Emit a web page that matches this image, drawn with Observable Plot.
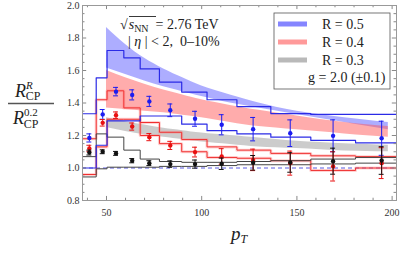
<!DOCTYPE html>
<html><head><meta charset="utf-8">
<script src="https://cdn.jsdelivr.net/npm/d3@7"></script>
<script src="https://cdn.jsdelivr.net/npm/@observablehq/plot@0.6"></script>
<style>body{margin:0;background:#fff}</style>
</head><body><div id="chart"></div>
<script>
// ---- data points ----
const pt = [41, 48, 55, 63.5, 72.5, 83.5, 96.5, 110.5, 127, 146.5, 169, 194.5];
const blueVal = [1.185, 1.33, 1.47, 1.45, 1.41, 1.355, 1.303, 1.266, 1.239, 1.214, 1.198, 1.183];
const blueErr = [0.025, 0.03, 0.026, 0.031, 0.031, 0.039, 0.046, 0.062, 0.072, 0.082, 0.098, 0.105];
const redVal = [1.12, 1.278, 1.325, 1.255, 1.19, 1.139, 1.098, 1.071, 1.05, 1.03, 1.01, 1.03];
const redErr = [0.02, 0.02, 0.02, 0.022, 0.022, 0.025, 0.03, 0.048, 0.066, 0.074, 0.09, 0.095];
const blackVal = [1.095, 1.10, 1.09, 1.045, 1.03, 1.024, 1.024, 1.026, 1.032, 1.034, 1.042, 1.046];
const blackErr = [0.015, 0.012, 0.012, 0.013, 0.015, 0.02, 0.025, 0.035, 0.045, 0.06, 0.08, 0.085];

// ---- theory bands ----
const bandPt = [50, 60, 70, 80, 90, 100, 115, 130, 150, 175, 198];
const blueHi = [1.865, 1.76, 1.675, 1.61, 1.555, 1.505, 1.45, 1.40, 1.35, 1.31, 1.28];
const blueLo = [1.615, 1.575, 1.535, 1.50, 1.47, 1.44, 1.40, 1.37, 1.33, 1.28, 1.235];
const redHi = [1.60, 1.555, 1.515, 1.48, 1.45, 1.42, 1.385, 1.355, 1.32, 1.28, 1.255];
const redLo = [1.37, 1.36, 1.35, 1.34, 1.325, 1.31, 1.28, 1.255, 1.235, 1.21, 1.19];
const grayHi = [1.31, 1.285, 1.265, 1.245, 1.23, 1.215, 1.20, 1.185, 1.165, 1.15, 1.14];
const grayLo = [1.25, 1.225, 1.205, 1.19, 1.175, 1.16, 1.145, 1.13, 1.12, 1.105, 1.10];

// ---- step histograms ----
const edges = [37.4, 44.6, 50.3, 59.1, 67.7, 77.8, 89.5, 102.8, 118.5, 136.3, 157.3, 180.8, 205];
const blueUp = [1.334, 1.555, 1.723, 1.678, 1.61, 1.528, 1.467, 1.42, 1.378, 1.335, 1.33, 1.33];
const blueDn = [1.0, 1.14, 1.29, 1.29, 1.32, 1.32, 1.27, 1.23, 1.21, 1.19, 1.17, 1.155];
const redUp = [1.18, 1.42, 1.475, 1.37, 1.28, 1.22, 1.175, 1.13, 1.11, 1.09, 1.075, 1.07];
const redDn = [0.96, 1.13, 1.30, 1.30, 1.20, 1.15, 1.10, 1.065, 1.06, 1.045, 0.985, 1.0];
const blackUp = [1.07, 1.21, 1.19, 1.11, 1.055, 1.04, 1.035, 1.035, 1.04, 1.045, 1.055, 1.065];
const blackDn = [0.945, 0.995, 1.005, 1.005, 1.005, 1.01, 1.01, 1.015, 1.02, 1.02, 1.025, 1.03];

// ---- axes ----
const xDomain = [37.4, 202.3];
const yDomain = [0.8, 2.0];
const xMajor = [50, 100, 150, 200];
const xMinor = [40, 60, 70, 80, 90, 110, 120, 130, 140, 160, 170, 180, 190];
const yMajor = [0.8, 1.0, 1.2, 1.4, 1.6, 1.8, 2.0];
const yMinor = d3.range(0.85, 2.0, 0.05).filter(v => Math.abs((v * 5) - Math.round(v * 5)) > 0.01);

const legendLabels = ["R = 0.5", "R = 0.4", "R = 0.3"];
const legendColors = ["#8585ff", "#ff9a9a", "#b9b9b9"];

const SERIF = "'Liberation Serif', 'Times New Roman', 'DejaVu Serif', serif";

// ---- build tables ----
const band = (hi, lo) => bandPt.map((x, i) => ({x, hi: hi[i], lo: lo[i]}));
const steps = vals => [...vals.map((v, i) => ({x: edges[i], y: v})), {x: edges[edges.length - 1], y: vals[vals.length - 1]}];
const pts = (vals, errs) => pt.map((x, i) => ({x, y: vals[i], e: errs[i]}));
const caps = rows => rows.flatMap(d => [{x: d.x, y: d.y - d.e}, {x: d.x, y: d.y + d.e}]);

const blueP = pts(blueVal, blueErr), redP = pts(redVal, redErr), blackP = pts(blackVal, blackErr);
const capW = 1.3;
const xLen = 0.025, xLenMin = 0.014; // tick lengths in y units
const yLen = 2.2, yLenMin = 1.3;     // tick lengths in x units

const series = [
  {p: blueP, c: "#1c1cf0"},
  {p: redP, c: "#e81010"},
  {p: blackP, c: "#111"}
];

const marks = [
  Plot.areaY(band(blueHi, blueLo), {x: "x", y1: "lo", y2: "hi", fill: "#5b5bff", fillOpacity: 0.5, curve: "natural"}),
  Plot.areaY(band(redHi, redLo), {x: "x", y1: "lo", y2: "hi", fill: "#ff5a5a", fillOpacity: 0.5, curve: "natural"}),
  Plot.areaY(band(grayHi, grayLo), {x: "x", y1: "lo", y2: "hi", fill: "#999", fillOpacity: 0.5, curve: "natural"}),
  Plot.ruleY([1], {stroke: "#5a5ae0", strokeDasharray: "4,3", strokeWidth: 1}),
  Plot.line(steps(redUp), {x: "x", y: "y", curve: "step-after", stroke: "#ff8080", strokeWidth: 3, strokeOpacity: 0.35, clip: true}),
  Plot.line(steps(redDn), {x: "x", y: "y", curve: "step-after", stroke: "#ff8080", strokeWidth: 3, strokeOpacity: 0.35, clip: true}),
  Plot.line(steps(redUp), {x: "x", y: "y", curve: "step-after", stroke: "#f03030", strokeWidth: 1, clip: true}),
  Plot.line(steps(redDn), {x: "x", y: "y", curve: "step-after", stroke: "#f03030", strokeWidth: 1, clip: true}),
  Plot.line(steps(blackUp), {x: "x", y: "y", curve: "step-after", stroke: "#444", strokeWidth: 1, clip: true}),
  Plot.line(steps(blackDn), {x: "x", y: "y", curve: "step-after", stroke: "#444", strokeWidth: 1, clip: true}),
  Plot.line(steps(blueUp), {x: "x", y: "y", curve: "step-after", stroke: "#2b2be6", strokeWidth: 1.2, clip: true}),
  Plot.line(steps(blueDn), {x: "x", y: "y", curve: "step-after", stroke: "#2b2be6", strokeWidth: 1.2, clip: true}),
  ...series.flatMap(s => [
    Plot.ruleX(s.p, {x: "x", y1: d => d.y - d.e, y2: d => d.y + d.e, stroke: s.c, strokeWidth: 1}),
    Plot.ruleY(caps(s.p), {y: "y", x1: d => d.x - capW, x2: d => d.x + capW, stroke: s.c, strokeWidth: 1}),
    Plot.dot(s.p, {x: "x", y: "y", r: 2.2, fill: s.c, stroke: "none"})
  ]),
  Plot.ruleX(xMajor, {x: d => d, y1: yDomain[0], y2: yDomain[0] + xLen, stroke: "#888"}),
  Plot.ruleX(xMinor, {x: d => d, y1: yDomain[0], y2: yDomain[0] + xLenMin, stroke: "#888"}),
  Plot.ruleX(xMajor, {x: d => d, y1: yDomain[1], y2: yDomain[1] - xLen, stroke: "#888"}),
  Plot.ruleX(xMinor, {x: d => d, y1: yDomain[1], y2: yDomain[1] - xLenMin, stroke: "#888"}),
  Plot.ruleY(yMajor, {y: d => d, x1: xDomain[0], x2: xDomain[0] + yLen, stroke: "#888"}),
  Plot.ruleY(yMinor, {y: d => d, x1: xDomain[0], x2: xDomain[0] + yLenMin, stroke: "#888"}),
  Plot.ruleY(yMajor, {y: d => d, x1: xDomain[1], x2: xDomain[1] - yLen, stroke: "#888"}),
  Plot.ruleY(yMinor, {y: d => d, x1: xDomain[1], x2: xDomain[1] - yLenMin, stroke: "#888"}),
  Plot.frame({stroke: "#999"}),
  Plot.axisX({ticks: xMajor, tickSize: 0, tickPadding: 8, label: null, fontSize: 10, fontFamily: SERIF, tickFormat: d3.format("d")}),
  Plot.axisY({ticks: yMajor, tickSize: 0, tickPadding: 3, label: null, fontSize: 10, fontFamily: SERIF, tickFormat: d3.format(".1f")})
];

const svg = Plot.plot({
  width: 407, height: 254,
  marginLeft: 82, marginRight: 11, marginTop: 5, marginBottom: 54,
  x: {domain: xDomain},
  y: {domain: yDomain},
  style: {fontFamily: SERIF, color: "#333", background: "#fff"},
  marks
});

const g = d3.select(svg).append("g")
  .attr("font-family", SERIF).attr("fill", "#222").attr("text-anchor", "start");

// annotation
const t1 = g.append("text").attr("x", 120).attr("y", 29).attr("font-size", 14);
t1.append("tspan").text("\u221A");
t1.append("tspan").attr("font-style", "italic").attr("dx", 1).text("s");
t1.append("tspan").attr("font-size", 10).attr("dy", 3).text("NN");
t1.append("tspan").attr("dy", -3).text("  = 2.76 TeV");
g.append("line").attr("x1", 129).attr("x2", 156).attr("y1", 16.5).attr("y2", 16.5).attr("stroke", "#222").attr("stroke-width", 0.9);
const t2 = g.append("text").attr("x", 128).attr("y", 46).attr("font-size", 14);
t2.append("tspan").text("| ");
t2.append("tspan").attr("font-style", "italic").text("\u03B7");
t2.append("tspan").text(" | < 2,  0\u201310%");

// legend
g.append("rect").attr("x", 274).attr("y", 13).attr("width", 116).attr("height", 76)
  .attr("fill", "#fff").attr("stroke", "#555").attr("stroke-width", 0.8);
legendLabels.forEach((lab, i) => {
  const yy = 24 + i * 18;
  g.append("line").attr("x1", 278).attr("x2", 307).attr("y1", yy).attr("y2", yy)
    .attr("stroke", legendColors[i]).attr("stroke-width", 5);
  g.append("text").attr("x", 322).attr("y", yy + 4.5).attr("font-size", 14).text(lab);
});
g.append("text").attr("x", 308).attr("y", 82).attr("font-size", 14).text("g = 2.0 (\u00B10.1)");

// y label (fraction)
const num = g.append("text").attr("x", 15).attr("y", 97).attr("font-size", 18);
num.append("tspan").attr("font-style", "italic").text("R");
num.append("tspan").attr("font-style", "italic").attr("font-size", 11).attr("dy", -8).text("R");
num.append("tspan").attr("font-size", 12).attr("dy", 11).attr("dx", -7).text("CP");
g.append("line").attr("x1", 8).attr("x2", 54).attr("y1", 103.5).attr("y2", 103.5).attr("stroke", "#555").attr("stroke-width", 1.5);
const den = g.append("text").attr("x", 13).attr("y", 124).attr("font-size", 18);
den.append("tspan").attr("font-style", "italic").text("R");
den.append("tspan").attr("font-size", 11).attr("dy", -8).text("0.2");
den.append("tspan").attr("font-size", 12).attr("dy", 12).attr("dx", -14).text("CP");

// x label
const xl = g.append("text").attr("x", 231).attr("y", 240).attr("font-size", 19);
xl.append("tspan").attr("font-style", "italic").text("p");
xl.append("tspan").attr("font-style", "italic").attr("font-size", 12).attr("dy", 3).text("T");

document.getElementById("chart").appendChild(svg);
</script>
</body></html>
